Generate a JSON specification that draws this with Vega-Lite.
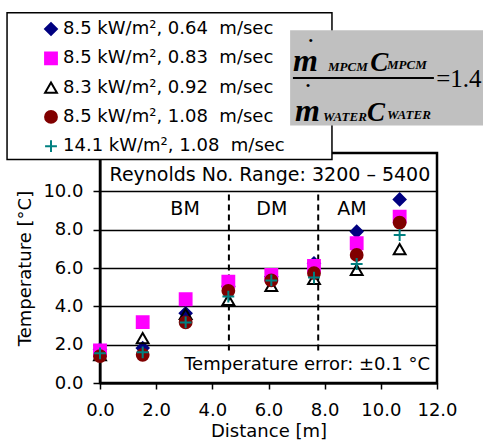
{
  "$schema": "https://vega.github.io/schema/vega-lite/v6.json",
  "width": 337,
  "height": 230,
  "autosize": {"type": "none"},
  "padding": {"left": 100, "top": 153, "right": 46, "bottom": 59},
  "background": "white",
  "config": {
    "view": {"stroke": null},
    "font": "DejaVu Sans",
    "legend": {
      "orient": "none",
      "legendX": -58,
      "legendY": -133,
      "padding": 0,
      "symbolSize": 140,
      "symbolStrokeWidth": 2,
      "labelFont": "DejaVu Sans",
      "labelFontSize": 18,
      "labelColor": "black",
      "labelOffset": 3,
      "labelLimit": 400,
      "rowPadding": 9.3
    }
  },
  "layer": [
    {
      "data": {"values": [{"x": 0, "x2": 12, "y": 0, "y2": 12}]},
      "mark": {"type": "rect", "fill": "transparent", "stroke": "black", "strokeWidth": 2.5},
      "encoding": {
        "x": {"field": "x", "type": "quantitative", "scale": {"domain": [0, 12], "nice": false, "zero": false}},
        "x2": {"field": "x2"},
        "y": {"field": "y", "type": "quantitative", "scale": {"domain": [0, 12], "nice": false, "zero": false}},
        "y2": {"field": "y2"}
      }
    },
    {
      "data": {"values": [{"x": 4.59, "y": 1.7, "y2": 10}, {"x": 7.77, "y": 1.7, "y2": 10}]},
      "mark": {"type": "rule", "color": "black", "strokeWidth": 2, "strokeDash": [6, 4]},
      "encoding": {
        "x": {"field": "x", "type": "quantitative", "scale": {"domain": [0, 12], "nice": false, "zero": false}},
        "y": {"field": "y", "type": "quantitative", "scale": {"domain": [0, 12], "nice": false, "zero": false}},
        "y2": {"field": "y2"}
      }
    },
    {
      "data": {"values": [{"x": 6.05, "y": 10.83, "label": "Reynolds No. Range: 3200 – 5400"}]},
      "mark": {"type": "text", "font": "DejaVu Sans", "fontSize": 19, "color": "black", "align": "center", "baseline": "middle"},
      "encoding": {
        "x": {"field": "x", "type": "quantitative", "scale": {"domain": [0, 12], "nice": false, "zero": false}},
        "y": {"field": "y", "type": "quantitative", "scale": {"domain": [0, 12], "nice": false, "zero": false}},
        "text": {"field": "label"}
      }
    },
    {
      "data": {"values": [
        {"x": 3.03, "y": 9.1, "label": "BM"},
        {"x": 6.12, "y": 9.1, "label": "DM"},
        {"x": 8.97, "y": 9.1, "label": "AM"}
      ]},
      "mark": {"type": "text", "font": "DejaVu Sans", "fontSize": 19, "color": "black", "align": "center", "baseline": "middle"},
      "encoding": {
        "x": {"field": "x", "type": "quantitative", "scale": {"domain": [0, 12], "nice": false, "zero": false}},
        "y": {"field": "y", "type": "quantitative", "scale": {"domain": [0, 12], "nice": false, "zero": false}},
        "text": {"field": "label"}
      }
    },
    {
      "data": {"values": [{"x": 11.75, "y": 0.95, "label": "Temperature error: ±0.1 °C"}]},
      "mark": {"type": "text", "font": "DejaVu Sans", "fontSize": 18, "color": "black", "align": "right", "baseline": "middle"},
      "encoding": {
        "x": {"field": "x", "type": "quantitative", "scale": {"domain": [0, 12], "nice": false, "zero": false}},
        "y": {"field": "y", "type": "quantitative", "scale": {"domain": [0, 12], "nice": false, "zero": false}},
        "text": {"field": "label"}
      }
    },
    {
      "data": {"values": [
        {"d": 0, "t": 1.75, "s": "8.5 kW/m², 0.64\u00a0 m/sec"},
        {"d": 0, "t": 1.7, "s": "8.5 kW/m², 0.83\u00a0 m/sec"},
        {"d": 0, "t": 1.45, "s": "8.3 kW/m², 0.92\u00a0 m/sec"},
        {"d": 0, "t": 1.4, "s": "8.5 kW/m², 1.08\u00a0 m/sec"},
        {"d": 0, "t": 1.55, "s": "14.1 kW/m², 1.08\u00a0 m/sec"},
        {"d": 1.52, "t": 1.82, "s": "8.5 kW/m², 0.64\u00a0 m/sec"},
        {"d": 1.52, "t": 3.18, "s": "8.5 kW/m², 0.83\u00a0 m/sec"},
        {"d": 1.52, "t": 2.34, "s": "8.3 kW/m², 0.92\u00a0 m/sec"},
        {"d": 1.52, "t": 1.47, "s": "8.5 kW/m², 1.08\u00a0 m/sec"},
        {"d": 1.52, "t": 1.6, "s": "14.1 kW/m², 1.08\u00a0 m/sec"},
        {"d": 3.05, "t": 3.64, "s": "8.5 kW/m², 0.64\u00a0 m/sec"},
        {"d": 3.05, "t": 4.37, "s": "8.5 kW/m², 0.83\u00a0 m/sec"},
        {"d": 3.05, "t": 3.6, "s": "8.3 kW/m², 0.92\u00a0 m/sec"},
        {"d": 3.05, "t": 3.16, "s": "8.5 kW/m², 1.08\u00a0 m/sec"},
        {"d": 3.05, "t": 3.16, "s": "14.1 kW/m², 1.08\u00a0 m/sec"},
        {"d": 4.57, "t": 5.05, "s": "8.5 kW/m², 0.64\u00a0 m/sec"},
        {"d": 4.57, "t": 5.29, "s": "8.5 kW/m², 0.83\u00a0 m/sec"},
        {"d": 4.57, "t": 4.34, "s": "8.3 kW/m², 0.92\u00a0 m/sec"},
        {"d": 4.57, "t": 4.81, "s": "8.5 kW/m², 1.08\u00a0 m/sec"},
        {"d": 4.57, "t": 4.51, "s": "14.1 kW/m², 1.08\u00a0 m/sec"},
        {"d": 6.1, "t": 5.55, "s": "8.5 kW/m², 0.64\u00a0 m/sec"},
        {"d": 6.1, "t": 5.64, "s": "8.5 kW/m², 0.83\u00a0 m/sec"},
        {"d": 6.1, "t": 5.07, "s": "8.3 kW/m², 0.92\u00a0 m/sec"},
        {"d": 6.1, "t": 5.35, "s": "8.5 kW/m², 1.08\u00a0 m/sec"},
        {"d": 6.1, "t": 5.35, "s": "14.1 kW/m², 1.08\u00a0 m/sec"},
        {"d": 7.62, "t": 6.25, "s": "8.5 kW/m², 0.64\u00a0 m/sec"},
        {"d": 7.62, "t": 6.11, "s": "8.5 kW/m², 0.83\u00a0 m/sec"},
        {"d": 7.62, "t": 5.43, "s": "8.3 kW/m², 0.92\u00a0 m/sec"},
        {"d": 7.62, "t": 5.73, "s": "8.5 kW/m², 1.08\u00a0 m/sec"},
        {"d": 7.62, "t": 5.5, "s": "14.1 kW/m², 1.08\u00a0 m/sec"},
        {"d": 9.14, "t": 7.9, "s": "8.5 kW/m², 0.64\u00a0 m/sec"},
        {"d": 9.14, "t": 7.29, "s": "8.5 kW/m², 0.83\u00a0 m/sec"},
        {"d": 9.14, "t": 5.9, "s": "8.3 kW/m², 0.92\u00a0 m/sec"},
        {"d": 9.14, "t": 6.68, "s": "8.5 kW/m², 1.08\u00a0 m/sec"},
        {"d": 9.14, "t": 6.21, "s": "14.1 kW/m², 1.08\u00a0 m/sec"},
        {"d": 10.67, "t": 9.58, "s": "8.5 kW/m², 0.64\u00a0 m/sec"},
        {"d": 10.67, "t": 8.68, "s": "8.5 kW/m², 0.83\u00a0 m/sec"},
        {"d": 10.67, "t": 6.98, "s": "8.3 kW/m², 0.92\u00a0 m/sec"},
        {"d": 10.67, "t": 8.37, "s": "8.5 kW/m², 1.08\u00a0 m/sec"},
        {"d": 10.67, "t": 7.72, "s": "14.1 kW/m², 1.08\u00a0 m/sec"}
      ]},
      "mark": {"type": "point", "filled": true, "opacity": 1, "size": 140, "strokeWidth": 2},
      "encoding": {
        "x": {
          "field": "d", "type": "quantitative",
          "scale": {"domain": [0, 12], "nice": false, "zero": false},
          "axis": {
            "title": "Distance [m]", "values": [0, 2, 4, 6, 8, 10, 12], "format": ".1f",
            "grid": false, "labelFlush": false, "labelOverlap": false,
            "domainColor": "black", "domainWidth": 2, "tickColor": "black", "tickWidth": 1.5, "tickSize": 6,
            "labelFont": "DejaVu Sans", "labelFontSize": 18, "labelColor": "black", "labelPadding": 12,
            "titleFont": "DejaVu Sans", "titleFontSize": 18, "titleFontWeight": "normal", "titleColor": "black", "titlePadding": 3
          }
        },
        "y": {
          "field": "t", "type": "quantitative",
          "scale": {"domain": [0, 12], "nice": false, "zero": false},
          "axis": {
            "title": "Temperature [°C]", "values": [0, 2, 4, 6, 8, 10], "format": ".1f",
            "grid": true, "gridColor": "black", "gridWidth": 1.5, "gridOpacity": 1, "labelOverlap": false, "labelFlush": false,
            "domainColor": "black", "domainWidth": 2, "tickColor": "black", "tickWidth": 1.5, "tickSize": 7,
            "labelFont": "DejaVu Sans", "labelFontSize": 18, "labelColor": "black", "labelPadding": 10,
            "titleFont": "DejaVu Sans", "titleFontSize": 18, "titleFontWeight": "normal", "titleColor": "black", "titlePadding": 8
          }
        },
        "shape": {
          "field": "s", "type": "nominal", "title": null,
          "scale": {
            "domain": ["8.5 kW/m², 0.64\u00a0 m/sec", "8.5 kW/m², 0.83\u00a0 m/sec", "8.3 kW/m², 0.92\u00a0 m/sec", "8.5 kW/m², 1.08\u00a0 m/sec", "14.1 kW/m², 1.08\u00a0 m/sec"],
            "range": ["diamond", "square", "triangle-up", "circle", "M-1,0L1,0M0,-1L0,1"]
          }
        },
        "fill": {
          "field": "s", "type": "nominal", "title": null,
          "scale": {
            "domain": ["8.5 kW/m², 0.64\u00a0 m/sec", "8.5 kW/m², 0.83\u00a0 m/sec", "8.3 kW/m², 0.92\u00a0 m/sec", "8.5 kW/m², 1.08\u00a0 m/sec", "14.1 kW/m², 1.08\u00a0 m/sec"],
            "range": ["#000080", "#FF00FF", "transparent", "#800000", "transparent"]
          }
        },
        "stroke": {
          "field": "s", "type": "nominal", "title": null,
          "scale": {
            "domain": ["8.5 kW/m², 0.64\u00a0 m/sec", "8.5 kW/m², 0.83\u00a0 m/sec", "8.3 kW/m², 0.92\u00a0 m/sec", "8.5 kW/m², 1.08\u00a0 m/sec", "14.1 kW/m², 1.08\u00a0 m/sec"],
            "range": ["#000080", "#FF00FF", "#000000", "#800000", "#008080"]
          }
        }
      }
    },
    {
      "data": {"values": [{"x": -3.31, "x2": 8.26, "y": 11.66, "y2": 19.32}]},
      "mark": {"type": "rect", "fill": "white", "stroke": "black", "strokeWidth": 1.5},
      "encoding": {
        "x": {"field": "x", "type": "quantitative", "scale": {"domain": [0, 12], "nice": false, "zero": false}},
        "x2": {"field": "x2"},
        "y": {"field": "y", "type": "quantitative", "scale": {"domain": [0, 12], "nice": false, "zero": false}},
        "y2": {"field": "y2"}
      }
    },
    {
      "data": {"values": [{"x": 6.77, "x2": 13.7, "y": 13.43, "y2": 18.41}]},
      "mark": {"type": "rect", "fill": "#C0C0C0", "strokeWidth": 0},
      "encoding": {
        "x": {"field": "x", "type": "quantitative", "scale": {"domain": [0, 12], "nice": false, "zero": false}},
        "x2": {"field": "x2"},
        "y": {"field": "y", "type": "quantitative", "scale": {"domain": [0, 12], "nice": false, "zero": false}},
        "y2": {"field": "y2"}
      }
    },
    {
      "data": {"values": [{"x": 6.87, "x2": 11.89, "y": 15.91}]},
      "mark": {"type": "rule", "color": "black", "strokeWidth": 2},
      "encoding": {
        "x": {"field": "x", "type": "quantitative", "scale": {"domain": [0, 12], "nice": false, "zero": false}},
        "x2": {"field": "x2"},
        "y": {"field": "y", "type": "quantitative", "scale": {"domain": [0, 12], "nice": false, "zero": false}}
      }
    },
    {
      "data": {"values": [
        {"x": 6.87, "y": 16.29, "label": "m"},
        {"x": 6.94, "y": 13.69, "label": "m"}
      ]},
      "mark": {"type": "text", "font": "Liberation Serif", "fontStyle": "italic", "fontWeight": "bold", "fontSize": 32, "color": "black", "align": "left", "baseline": "alphabetic"},
      "encoding": {
        "x": {"field": "x", "type": "quantitative", "scale": {"domain": [0, 12], "nice": false, "zero": false}},
        "y": {"field": "y", "type": "quantitative", "scale": {"domain": [0, 12], "nice": false, "zero": false}},
        "text": {"field": "label"}
      }
    },
    {
      "data": {"values": [
        {"x": 9.62, "y": 16.29, "label": "C"},
        {"x": 9.51, "y": 13.69, "label": "C"}
      ]},
      "mark": {"type": "text", "font": "Liberation Serif", "fontStyle": "italic", "fontWeight": "bold", "fontSize": 27, "color": "black", "align": "left", "baseline": "alphabetic"},
      "encoding": {
        "x": {"field": "x", "type": "quantitative", "scale": {"domain": [0, 12], "nice": false, "zero": false}},
        "y": {"field": "y", "type": "quantitative", "scale": {"domain": [0, 12], "nice": false, "zero": false}},
        "text": {"field": "label"}
      }
    },
    {
      "data": {"values": [
        {"x": 8.12, "y": 16.29, "label": "MPCM"},
        {"x": 10.22, "y": 16.4, "label": "MPCM"},
        {"x": 7.94, "y": 13.69, "label": "WATER"},
        {"x": 10.22, "y": 13.8, "label": "WATER"}
      ]},
      "mark": {"type": "text", "font": "Liberation Serif", "fontStyle": "italic", "fontWeight": "bold", "fontSize": 13, "color": "black", "align": "left", "baseline": "alphabetic"},
      "encoding": {
        "x": {"field": "x", "type": "quantitative", "scale": {"domain": [0, 12], "nice": false, "zero": false}},
        "y": {"field": "y", "type": "quantitative", "scale": {"domain": [0, 12], "nice": false, "zero": false}},
        "text": {"field": "label"}
      }
    },
    {
      "data": {"values": [
        {"x": 7.51, "y": 17.85, "label": "•"},
        {"x": 7.41, "y": 15.51, "label": "•"}
      ]},
      "mark": {"type": "text", "font": "Liberation Serif", "fontSize": 13, "color": "black", "align": "center", "baseline": "middle"},
      "encoding": {
        "x": {"field": "x", "type": "quantitative", "scale": {"domain": [0, 12], "nice": false, "zero": false}},
        "y": {"field": "y", "type": "quantitative", "scale": {"domain": [0, 12], "nice": false, "zero": false}},
        "text": {"field": "label"}
      }
    },
    {
      "data": {"values": [{"x": 11.97, "y": 15.88, "label": "=1.4"}]},
      "mark": {"type": "text", "font": "Liberation Serif", "fontSize": 25, "color": "black", "align": "left", "baseline": "middle"},
      "encoding": {
        "x": {"field": "x", "type": "quantitative", "scale": {"domain": [0, 12], "nice": false, "zero": false}},
        "y": {"field": "y", "type": "quantitative", "scale": {"domain": [0, 12], "nice": false, "zero": false}},
        "text": {"field": "label"}
      }
    }
  ]
}
